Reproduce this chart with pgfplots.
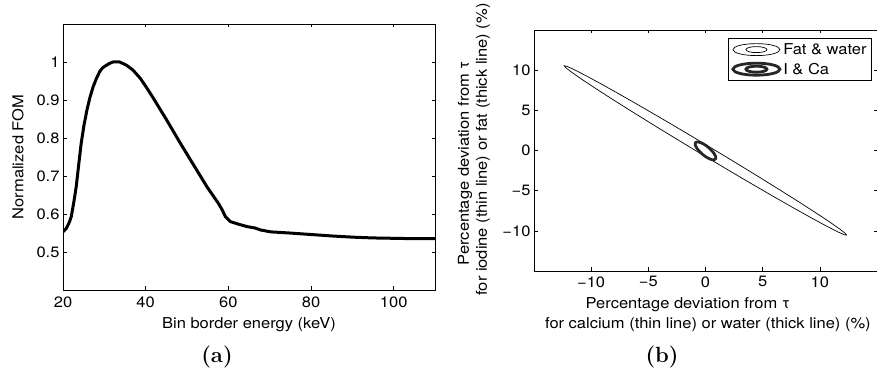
\documentclass[border=0pt]{standalone}
\usepackage{fontspec}
\setsansfont[FakeStretch=1.1]{TeX Gyre Heros}
\usepackage{pgfplots}
\pgfplotsset{compat=1.18}
\begin{document}
\begin{tikzpicture}[x=1pt,y=1pt]
\useasboundingbox (0,0) rectangle (877,379);
\pgfplotsset{
  every axis/.append style={font=\sffamily\fontsize{15}{18}\selectfont},
  /pgf/number format/assume math mode=true,
}
% ---------- (a) ----------
\begin{axis}[
  at={(63pt,89pt)}, anchor=south west,
  width=372pt, height=266pt, scale only axis,
  xmin=20, xmax=110, ymin=0.4, ymax=1.1,
  xtick={20,40,60,80,100},
  ytick={0.5,0.6,0.7,0.8,0.9,1},
  yticklabels={0.5,0.6,0.7,0.8,0.9,1},
  xticklabels={20,40,60,80,100},
  tick align=inside, xtick pos=both, ytick pos=both,
  major tick length=3.5pt,
  axis line style={line width=0.8pt},
  every tick/.style={black, line width=0.6pt},
  xticklabel style={yshift=-3pt},
  xlabel={Bin border energy (keV)},
  ylabel={Normalized FOM},
  xlabel style={at={(axis description cs:0.5,-0.132)}, anchor=center},
  ylabel style={at={(axis description cs:-0.121,0.5)}, anchor=center},
]
\addplot[black, line width=3pt, line join=round] coordinates {
(20,0.553) (20.8,0.562) (21.6,0.580) (22.0,0.593) (22.6,0.630) (23.2,0.672)
(23.8,0.730) (24.4,0.786) (25.1,0.835) (25.8,0.874) (26.5,0.906) (27.3,0.935)
(28.1,0.957) (28.9,0.975) (29.6,0.985) (30.3,0.990) (31.2,0.996) (32.1,1.0)
(33.7,1.0) (35.3,0.992) (36.9,0.979) (38.7,0.957) (40.2,0.933) (41.9,0.904)
(45.1,0.847) (48.4,0.786) (51.6,0.729) (54.8,0.672) (57.6,0.628)
(58.5,0.611) (59.3,0.593) (60.5,0.580) (62.5,0.573) (64.5,0.567)
(66.5,0.563) (67.8,0.558) (70.2,0.553)
(74.8,0.550) (80,0.546) (85.3,0.542) (90.2,0.539) (95,0.537) (100,0.536) (105,0.535) (110,0.535)
};
\end{axis}
% ---------- (b) ----------
\begin{axis}[
  at={(534pt,108pt)}, anchor=south west,
  width=343pt, height=241pt, scale only axis,
  xmin=-15, xmax=15, ymin=-15, ymax=15,
  xtick={-10,-5,0,5,10}, ytick={-10,-5,0,5,10},
  xticklabels={−10,−5,0,5,10},
  yticklabels={−10,−5,0,5,10},
  tick align=inside, xtick pos=both, ytick pos=both,
  major tick length=3.5pt,
  axis line style={line width=0.8pt},
  every tick/.style={black, line width=0.6pt},
  xticklabel style={yshift=-2pt},
  xlabel={Percentage deviation from τ\hspace*{40pt}\\for calcium (thin line) or water (thick line) (\%)},
  ylabel={Percentage deviation from τ\hspace*{27pt}\\for iodine (thin line) or fat (thick line) (\%)},
  xlabel style={at={(axis description cs:0.507,-0.183)}, anchor=center, align=center, font=\sffamily\fontsize{15}{20}\selectfont},
  ylabel style={at={(axis description cs:-0.175,0.504)}, anchor=center, align=center, font=\sffamily\fontsize{15}{18}\selectfont},
  legend image code/.code={
    \draw[#1] (23.5pt,0pt) ellipse [x radius=23.5pt, y radius=6pt];
    \draw[#1] (23.5pt,0pt) ellipse [x radius=10.5pt, y radius=3pt];
  },
  legend style={at={(1,1)}, anchor=north east, xshift=-5pt, yshift=-8pt,
    draw=black, line width=0.8pt, inner sep=3pt,
    cells={anchor=west}, row sep=3pt},
]
\addplot[black, line width=0.7pt] coordinates {
(12.35,-10.55) (12.223,-10.312) (11.725,-9.760) (10.870,-8.911) (9.685,-7.792)
(8.207,-6.437) (6.478,-4.885) (4.553,-3.185) (2.489,-1.388) (0.35,0.45)
(-1.799,2.274) (-3.895,4.031) (-5.872,5.665) (-7.671,7.127) (-9.235,8.370)
(-10.520,9.361) (-11.485,10.068) (-12.101,10.468) (-12.35,10.55)
(-12.223,10.312) (-11.725,9.760) (-10.870,8.911) (-9.685,7.792) (-8.207,6.437)
(-6.478,4.885) (-4.553,3.185) (-2.489,1.388) (-0.35,-0.45) (1.799,-2.274)
(3.895,-4.031) (5.872,-5.665) (7.671,-7.127) (9.235,-8.370) (10.520,-9.361)
(11.485,-10.068) (12.101,-10.468) (12.35,-10.55)
};
\addlegendentry{Fat \& water}
\addplot[black!85, line width=2.8pt, smooth] coordinates {
(0.85,-1.10) (0.899,-0.966) (0.886,-0.769) (0.813,-0.524) (0.685,-0.246)
(0.510,0.045) (0.3,0.33) (0.070,0.589) (-0.165,0.804) (-0.389,0.961)
(-0.586,1.049) (-0.743,1.062) (-0.85,1.0) (-0.899,0.866) (-0.886,0.669)
(-0.813,0.424) (-0.685,0.146) (-0.510,-0.145) (-0.3,-0.43) (-0.070,-0.689)
(0.165,-0.904) (0.389,-1.061) (0.586,-1.149) (0.743,-1.162) (0.85,-1.10)
};
\addlegendentry{I \& Ca}
\end{axis}
\node[font=\bfseries\fontsize{22}{24}\selectfont] at (217pt,22pt) {(a)};
\node[font=\bfseries\fontsize{22}{24}\selectfont] at (662pt,22pt) {(b)};
\end{tikzpicture}
\end{document}
